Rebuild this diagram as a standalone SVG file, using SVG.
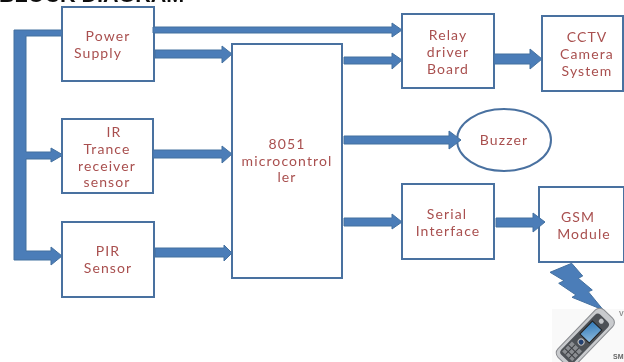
<svg xmlns="http://www.w3.org/2000/svg" width="624" height="362" viewBox="0 0 624 362">
<defs>
<filter id="soft" x="0" y="0" width="100%" height="100%" filterUnits="userSpaceOnUse"><feGaussianBlur stdDeviation="0.5"/></filter>
<linearGradient id="scr" x1="0" y1="0" x2="1" y2="1"><stop offset="0" stop-color="#2f78b8"/><stop offset="1" stop-color="#8fbbdd"/></linearGradient>
</defs>
<style>
.b{fill:#fff;stroke:#4a71a0;stroke-width:2}
.a{fill:#4b7db8;stroke:#44709f;stroke-width:1}
text{font-family:"Lato","Open Sans",sans-serif;font-size:14px;letter-spacing:1.1px;fill:#a9504f;text-anchor:middle}
#title text{font-family:"Liberation Sans",sans-serif;font-weight:bold;font-size:21.5px;letter-spacing:0;fill:#111;text-anchor:start}
#phone text{font-family:"Liberation Sans",sans-serif;font-weight:bold;font-size:7px;letter-spacing:0;fill:#666;text-anchor:start}
</style>
<rect width="624" height="362" fill="#fff"/>
<g filter="url(#soft)">
<g id="title"><text x="-1" y="2">BLOCK DIAGRAM</text></g>
<g id="power"><rect class="b" x="62" y="7" width="92" height="74"/><text x="108" y="41">Power</text><text x="98" y="58">Supply</text></g>
<g id="ir"><rect class="b" x="62" y="119" width="91" height="74"/><text x="114" y="137">IR</text><text x="107" y="154">Trance</text><text x="107" y="171">receiver</text><text x="107" y="187">sensor</text></g>
<g id="pir"><rect class="b" x="62" y="222" width="92" height="75"/><text x="108" y="256">PIR</text><text x="108" y="273">Sensor</text></g>
<g id="mcu"><rect class="b" x="232" y="44" width="110" height="234"/><text x="287" y="149">8051</text><text x="287" y="166">microcontrol</text><text x="287" y="182">ler</text></g>
<g id="relay"><rect class="b" x="402" y="14" width="92" height="74"/><text x="448" y="40">Relay</text><text x="448" y="57">driver</text><text x="448" y="74">Board</text></g>
<g id="cctv"><rect class="b" x="542" y="16" width="81" height="75"/><text x="587" y="42">CCTV</text><text x="587" y="59">Camera</text><text x="587" y="76">System</text></g>
<g id="buzzer"><ellipse class="b" cx="504" cy="140" rx="47" ry="31"/><text x="504" y="145">Buzzer</text></g>
<g id="serial"><rect class="b" x="402" y="184" width="92" height="75"/><text x="447" y="219">Serial</text><text x="448" y="236">Interface</text></g>
<g id="gsm"><rect class="b" x="539" y="187" width="85" height="75"/><text x="578" y="222">GSM</text><text x="584" y="239">Module</text></g>
<g id="connectors">
<polygon class="a" points="14,30 62,30 62,36 26,36 26,152 51,152 51,148 63,155 51,162 51,159 26,159 26,251 51,251 51,247 62,256 51,265 51,260 26,260 14,260"/>
<polygon class="a" points="153,27 392,27 392,23 402,30 392,37 392,33 153,33"/>
<polygon class="a" points="155,50 222,50 222,46 232,54 222,63 222,58 155,58"/>
<polygon class="a" points="153,150 222,150 222,146 232,154 222,163 222,158 153,158"/>
<polygon class="a" points="155,248 224,248 224,245 232,253 224,261 224,257 155,257"/>
<polygon class="a" points="344,57 392,57 392,53 402,60 392,69 392,64 344,64"/>
<polygon class="a" points="494,54 530,54 530,49 542,59 530,69 530,64 494,64"/>
<polygon class="a" points="344,136 449,136 449,131 461,140 449,149 449,144 344,144"/>
<polygon class="a" points="344,218 392,218 392,214 402,222 392,229 392,226 344,226"/>
<polygon class="a" points="496,218 533,218 533,213 545,222 533,232 533,227 496,227"/>
<polygon class="a" points="571.7,263.3 550,272.3 564,280.7 558.7,283.3 576,295 572,297.3 603.3,310 588.3,291.7 592.3,290 578.3,278.3 582.7,276"/>
</g>
<g id="phone">
<rect x="552" y="309" width="72" height="53" fill="#f9f9f9"/>
<g transform="translate(586 337) rotate(44)">
<rect x="-12" y="-32" width="24" height="66" rx="6" fill="#c9cbce" stroke="#8a8c90" stroke-width="1"/>
<rect x="-9" y="-26" width="18" height="56" rx="4" fill="#4e5156"/>
<rect x="-6.500" y="-16" width="13" height="18" fill="url(#scr)" stroke="#222" stroke-width="1"/>
<circle cx="0" cy="7" r="3" fill="#24406f" stroke="#bbb" stroke-width="1"/>
<rect x="-7" y="13" width="14" height="14" fill="#8b8e92"/>
<path d="M-7 18H7M-7 23H7M-2.500 13V27M2.500 13V27" stroke="#3e4044" stroke-width="1"/>
<circle cx="0" cy="-22" r="2.500" fill="#c2c5c9"/>
</g>
<text x="613" y="359">SM</text>
<text x="619" y="316" style="fill:#888">V</text>
</g>
</g>
</svg>
